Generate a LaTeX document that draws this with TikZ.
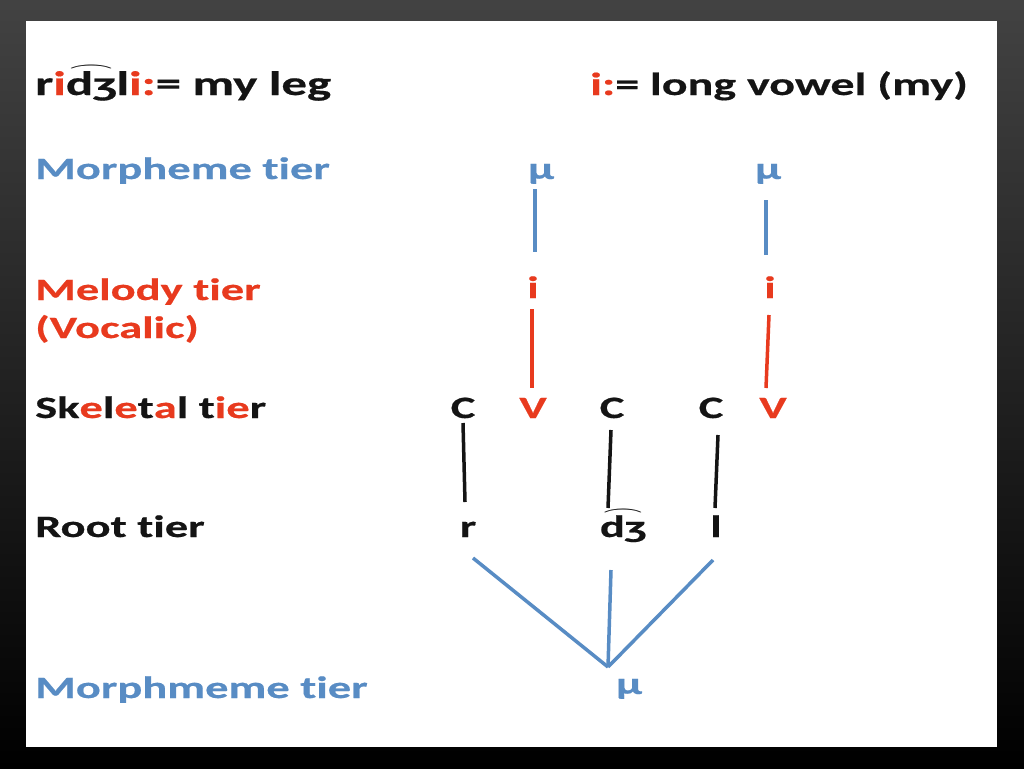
\documentclass[tikz,border=0pt]{standalone}
\usepackage{fontspec}
\newfontfamily\slidefont{Carlito}[FakeStretch=1.5, Ligatures=NoCommon, BoldFeatures={FakeBold=0.5}]
\definecolor{blue1}{RGB}{88, 140, 196}
\definecolor{red1}{RGB}{232, 58, 30}
\definecolor{ink1}{RGB}{20, 20, 20}
\usetikzlibrary{positioning, calc}
\newcommand\tiebar[1]{\leavevmode\setbox0\hbox{#1}\rlap{\raisebox{\dimexpr\ht0+1pt\relax}{\makebox[\wd0]{\resizebox{0.9\wd0}{5pt}{$\boldsymbol\frown$}}}}\box0}
\newcommand\rd[1]{\textcolor{red1}{#1}}
\usepackage{amsmath, amssymb}

\begin{document}
\begin{tikzpicture}[x=1pt, y=-1pt,
  tier/.style={inner sep=0pt, anchor=base west, font=\slidefont\bfseries\fontsize{31}{36}\selectfont},
  seg/.style={inner sep=0pt, anchor=base, font=\slidefont\bfseries\fontsize{31}{36}\selectfont},
  link/.style={line width=3.5pt}]
  \useasboundingbox (0,0) rectangle (1024,768);
  \shade[top color=black!74, middle color=black!88, bottom color=black] (0,0) rectangle (1024,768);
  \fill[white] (26,21) rectangle (997,747);

  \node[tier, ink1, font=\slidefont\bfseries\fontsize{34}{40}\selectfont] (title) at (35,95) {r\rd{i}\tiebar{dʒ}l\rd{i:}= my leg};
  \node[tier, ink1, font=\slidefont\bfseries\fontsize{32}{38}\selectfont] (note) at (590,95) {\rd{i:}= long vowel (my)};

  \node[tier, blue1] (morph) at (35,179) {Morpheme tier};
  \node[tier, red1] (melody) at (35,300) {Melody tier};
  \node[tier, red1] (vocalic) at (35,338) {(Vocalic)};
  \node[tier, ink1] (skel) at (35,418) {Sk\rd{e}l\rd{e}t\rd{a}l t\rd{ie}r};
  \node[tier, ink1] (root) at (35,537) {Root tier};
  \node[tier, blue1] (morphb) at (35,698) {Morphmeme tier};

  \node[seg, blue1] (mu1) at (541,179) {μ};
  \node[seg, blue1] (mu2) at (768,179) {μ};
  \node[seg, red1] (i1) at (533,298) {i};
  \node[seg, red1] (i2) at (770,298) {i};
  \node[seg, ink1] (c1) at (463,418) {C};
  \node[seg, red1] (v1) at (533,418) {V};
  \node[seg, ink1] (c2) at (612,418) {C};
  \node[seg, ink1] (c3) at (711,418) {C};
  \node[seg, red1] (v2) at (773,418) {V};
  \node[seg, ink1] (r) at (468,537) {r};
  \node[seg, ink1] (dz) at (623,537) {\tiebar{dʒ}};
  \node[seg, ink1] (l) at (716,537) {l};
  \node[seg, blue1] (mu3) at (629,694) {μ};

  \draw[link, blue1] ([shift={(-6,10)}]mu1.base) -- ([shift={(2,-46)}]i1.base);
  \draw[link, blue1] ([shift={(-2,21)}]mu2.base) -- ([shift={(-4,-43)}]i2.base);
  \draw[link, red1] ([shift={(-1,11)}]i1.base) -- ([shift={(-1,-30)}]v1.base);
  \draw[link, red1] ([shift={(-1,17)}]i2.base) -- ([shift={(-7,-30)}]v2.base);
  \draw[link, ink1] ([shift={(0,5)}]c1.base) -- ([shift={(-3,-35)}]r.base);
  \draw[link, ink1] ([shift={(-1,12)}]c2.base) -- ([shift={(-15,-29)}]dz.base);
  \draw[link, ink1] ([shift={(7,17)}]c3.base) -- ([shift={(-1,-29)}]l.base);
  \draw[link, blue1] ([shift={(5,21)}]r.base) -- ([shift={(-21,-27)}]mu3.base);
  \draw[link, blue1] ([shift={(-12,33)}]dz.base) -- ([shift={(-21,-27)}]mu3.base);
  \draw[link, blue1] ([shift={(-3,23)}]l.base) -- ([shift={(-21,-27)}]mu3.base);
\end{tikzpicture}
\end{document}
